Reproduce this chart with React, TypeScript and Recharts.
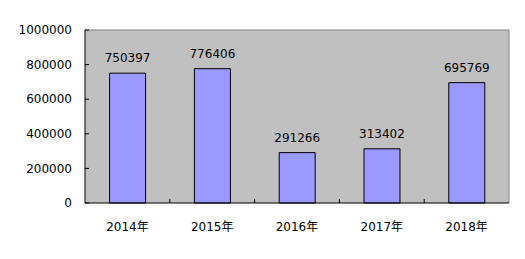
import { BarChart, Bar, XAxis, YAxis, CartesianGrid, LabelList } from 'recharts'

const years = ['2014年', '2015年', '2016年', '2017年', '2018年']
const counts = [750397, 776406, 291266, 313402, 695769]
const yTicks = [0, 200000, 400000, 600000, 800000, 1000000]

const data = years.map((year, i) => ({ year, count: counts[i] }))

const font = { fill: '#000000', fontSize: 12, fontFamily: '"DejaVu Sans", "Noto Sans CJK SC", sans-serif' }
const LABEL_GAP = 19
const CHART_W = 525
const MARGIN = { top: 30, right: 16, left: 0, bottom: 16 }
const Y_AXIS_W = 85

// category label plus the short inward tick on the boundary to its right
function YearTick(props: any) {
  const { x, y, payload, index } = props
  const plotW = Number(props.width) > 0 ? Number(props.width) : CHART_W - MARGIN.left - MARGIN.right - Y_AXIS_W
  const band = plotW / years.length
  const axisY = y - LABEL_GAP
  return (
    <g>
      {index < years.length - 1 && (
        <line x1={x + band / 2} x2={x + band / 2} y1={axisY - 4} y2={axisY} stroke="#000000" strokeWidth={1} />
      )}
      <text x={x} y={y} dy="0.71em" textAnchor="middle" {...font}>
        {payload.value}
      </text>
    </g>
  )
}

// value axis label plus the short inward tick
function ValueTick(props: any) {
  const { x, y, payload } = props
  const axisX = x + 13
  return (
    <g>
      <line x1={axisX} x2={axisX + 4} y1={y} y2={y} stroke="#000000" strokeWidth={1} />
      <text x={x} y={y} dy="0.355em" textAnchor="end" {...font}>
        {payload.value}
      </text>
    </g>
  )
}

export default function App() {
  return (
    <div style={{ position: 'absolute', left: 0, top: 0, background: '#ffffff' }}>
      <BarChart width={CHART_W} height={259} data={data} margin={MARGIN} barCategoryGap="29%">
        <CartesianGrid
          fill="#C0C0C0"
          stroke="#808080"
          horizontalCoordinatesGenerator={({ offset }: any) => [offset.top]}
          verticalCoordinatesGenerator={({ offset }: any) => [offset.left + offset.width]}
        />
        <XAxis
          dataKey="year"
          height={40}
          tick={<YearTick />}
          tickLine={false}
          tickSize={0}
          tickMargin={LABEL_GAP}
          stroke="#000000"
          interval={0}
        />
        <YAxis
          width={Y_AXIS_W}
          domain={[0, 1000000]}
          ticks={yTicks}
          tick={<ValueTick />}
          tickLine={false}
          tickSize={0}
          tickMargin={13}
          stroke="#000000"
          interval={0}
        />
        <Bar dataKey="count" fill="#9999FF" stroke="#000000" strokeWidth={1} isAnimationActive={false}>
          <LabelList dataKey="count" position="top" offset={11} style={font} />
        </Bar>
      </BarChart>
    </div>
  )
}
